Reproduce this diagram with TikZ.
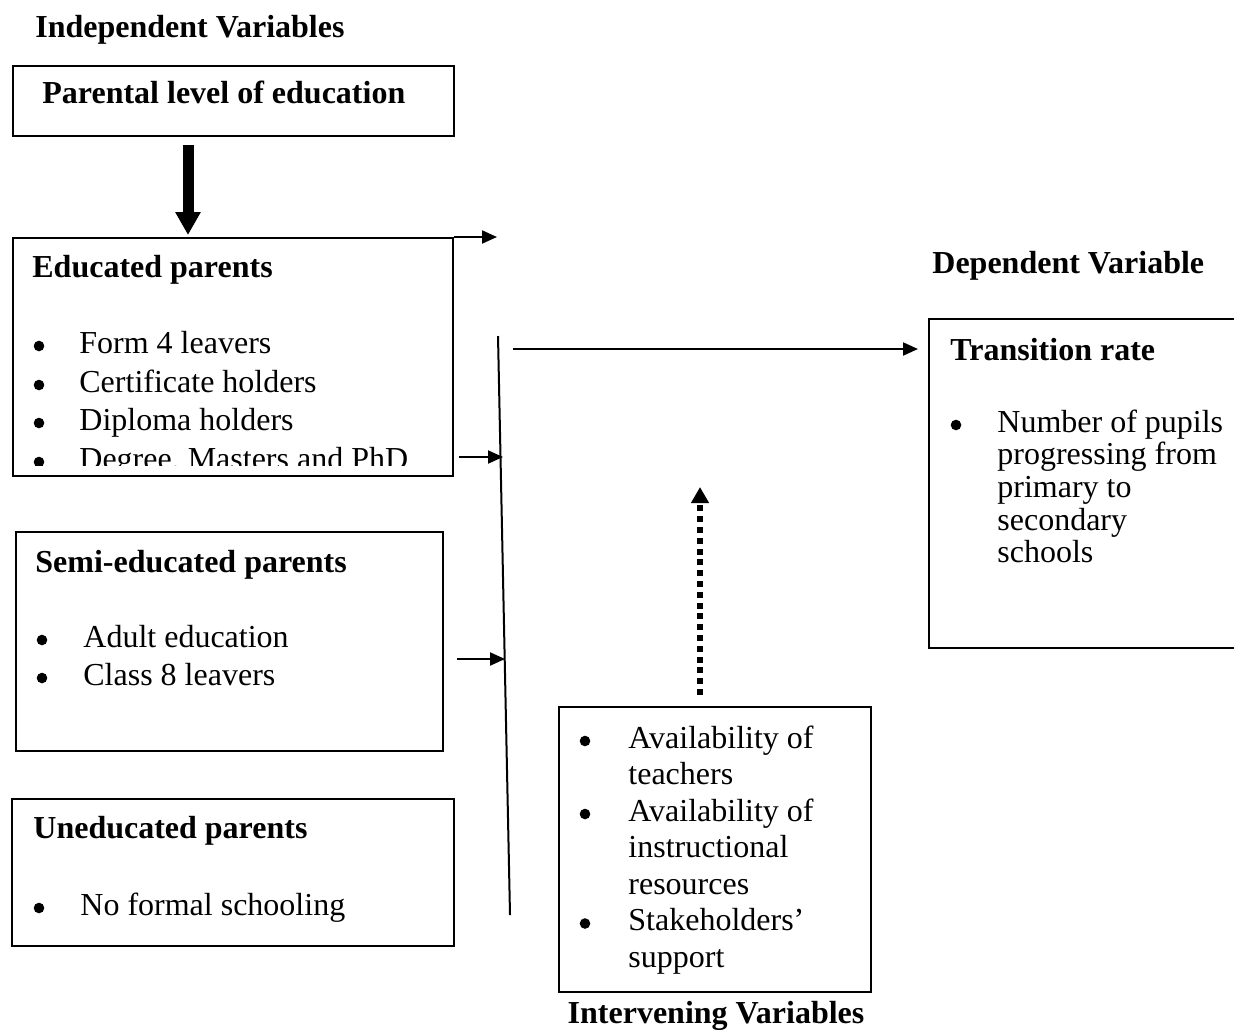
\documentclass[tikz,border=0pt]{standalone}
\usepackage{fontspec}
\setmainfont{Liberation Serif}
\usetikzlibrary{arrows.meta,calc}
\begin{document}
\begin{tikzpicture}[x=0.5pt,y=-0.5pt,
  box/.style={draw,line width=1pt,rectangle,inner sep=0pt,anchor=north west},
  txt/.style={anchor=base west,inner sep=0pt,font=\fontsize{16}{19}\selectfont},
  hd/.style={anchor=base west,inner sep=0pt,font=\fontsize{16}{19}\selectfont\bfseries},
  bul/.style={circle,fill=black,draw=none,inner sep=0pt,minimum size=5.3pt},
  conn/.style={line width=1pt,-{Triangle[length=7.5pt,width=6.5pt]}},
  bigarrow/.style={line width=5.5pt,-{Triangle[length=11.5pt,width=12pt]}},
  dotarrow/.style={line width=2.8pt,dash pattern=on 3pt off 2.4pt,-{Triangle[length=8pt,width=8.5pt]}}
]
\clip (0,0) rectangle (1234,1029);

% titles
\node[hd] (indep) at (35,37) {Independent Variables};
\node[hd] (dep) at (932,273) {Dependent Variable};
\node[hd,anchor=base] (intv) at (716,1023) {Intervening Variables};

% parental level
\node[box,minimum width=220.5pt,minimum height=35pt] (p1) at (12,65) {};
\node[hd] (p1t) at (42,103) {Parental level of education};

% educated parents
\node[box,minimum width=220pt,minimum height=119pt] (edu) at (12,237) {};
\node[hd] (edut) at (32,277) {Educated parents};
\begin{scope}
  \clip (12,237) rectangle (452,465);
  \node[bul] (eb1) at (39,346) {};
  \node[txt] (et1) at (79,353) {Form 4 leavers};
  \node[bul] (eb2) at (39,385) {};
  \node[txt] (et2) at (79,392) {Certificate holders};
  \node[bul] (eb3) at (39,423) {};
  \node[txt] (et3) at (79,430) {Diploma holders};
  \node[bul] (eb4) at (39,462) {};
  \node[txt] (et4) at (79,469) {Degree, Masters and PhD};
\end{scope}

% semi-educated
\node[box,minimum width=213.5pt,minimum height=109.5pt] (semi) at (15,531) {};
\node[hd] (semit) at (35,572) {Semi-educated parents};
\node[bul] (sb1) at (42,640) {};
\node[txt] (st1) at (83,647) {Adult education};
\node[bul] (sb2) at (42,678) {};
\node[txt] (st2) at (83,685) {Class 8 leavers};

% uneducated
\node[box,minimum width=221pt,minimum height=73.5pt] (unedu) at (11,798) {};
\node[hd] (unedut) at (33,838) {Uneducated parents};
\node[bul] (ub1) at (39,908) {};
\node[txt] (ut1) at (80,915) {No formal schooling};

% transition rate
\node[box,minimum width=161pt,minimum height=164.5pt] (trans) at (928,318) {};
\node[hd] (transt) at (950,360) {Transition rate};
\node[bul] (tb1) at (956,425) {};
\node[txt] (tt1) at (997,432) {Number of pupils};
\node[txt] (tt2) at (997,464.7) {progressing from};
\node[txt] (tt3) at (997,497.4) {primary to};
\node[txt] (tt4) at (997,530.1) {secondary};
\node[txt] (tt5) at (997,562.8) {schools};

% intervening
\node[box,minimum width=156pt,minimum height=142.5pt] (inter) at (558,706) {};
\node[bul] (ib1) at (585,741) {};
\node[txt] (it1) at (628,748) {Availability of};
\node[txt] (it2) at (628,784.5) {teachers};
\node[bul] (ib2) at (585,814) {};
\node[txt] (it3) at (628,821) {Availability of};
\node[txt] (it4) at (628,857.5) {instructional};
\node[txt] (it5) at (628,894) {resources};
\node[bul] (ib3) at (585,923.5) {};
\node[txt] (it6) at (628,930.5) {Stakeholders’};
\node[txt] (it7) at (628,967) {support};

% connectors
\draw[bigarrow] ($(p1.south west)+(176,8)$) -- ($(edu.north west)+(176,-2)$);
\coordinate (a1) at (497,237);
\draw[conn] (edu.north east) -- (a1);
\coordinate (vtop) at (498,336);
\coordinate (vbot) at (510,915);
\draw[line width=1pt] (vtop) -- (vbot);
\coordinate (e1) at (503,457);
\draw[conn] ($(edu.east |- e1)+(5,0)$) -- (e1);
\coordinate (s1) at (505,659);
\draw[conn] ($(semi.east |- s1)+(13,0)$) -- (s1);
\coordinate (l1) at (513,349);
\draw[conn] (l1) -- ($(trans.west |- l1)+(-10,0)$);
\draw[dotarrow] ($(inter.north west)+(142,-11)$) -- ($(inter.north west)+(142,-219)$);
\end{tikzpicture}
\end{document}
